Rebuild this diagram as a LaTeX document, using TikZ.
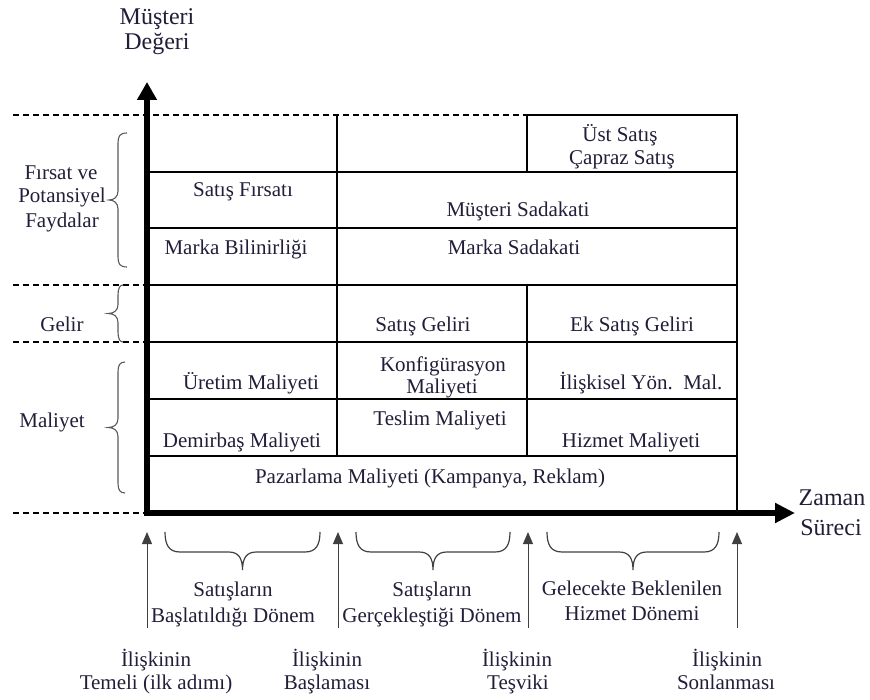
\documentclass[tikz,border=0pt]{standalone}
\usepackage{fontspec}
\setmainfont{Liberation Serif}
\usetikzlibrary{arrows.meta}
\definecolor{ink}{RGB}{32,30,56}

% left-hand curly brace: end x, stem x, tip x, top y, bottom y
\newcommand\sidecurl[5]{%
  \draw[sidebrace] (#1,#4) .. controls ({#2+2},#4) and (#2,{#4+3}) .. (#2,{#4+10})
    -- (#2,{(#4+#5)/2-9}) .. controls (#2,{(#4+#5)/2-3}) and ({#2-4},{(#4+#5)/2}) .. (#3,{(#4+#5)/2})
    .. controls ({#2-4},{(#4+#5)/2}) and (#2,{(#4+#5)/2+3}) .. (#2,{(#4+#5)/2+9})
    -- (#2,{#5-10}) .. controls (#2,{#5-3}) and ({#2+2},#5) .. (#1,#5);}

% downward curly brace under the time axis: left x, right x
\newcommand\lowcurl[2]{%
  \draw[lowbrace] (#1,532) .. controls (#1,545) and ({#1+4},552) .. ({#1+15},552)
    -- ({(#1+#2)/2-14},552) .. controls ({(#1+#2)/2-4},552) and ({(#1+#2)/2},558) .. ({(#1+#2)/2},570)
    .. controls ({(#1+#2)/2},558) and ({(#1+#2)/2+4},552) .. ({(#1+#2)/2+14},552)
    -- ({#2-15},552) .. controls ({#2-4},552) and (#2,545) .. (#2,532);}

\begin{document}
\begin{tikzpicture}[x=1pt,y=-1pt,
  lbl/.style={anchor=base, inner sep=0pt, text=ink, font=\fontsize{21}{24}\selectfont},
  biglbl/.style={lbl, font=\fontsize{24}{27}\selectfont},
  gridline/.style={line width=1.8pt, black},
  guide/.style={line width=1.4pt, dash pattern=on 6pt off 4pt, black},
  axis/.style={line width=5.5pt, line join=miter,
    {Triangle[length=18pt,width=19pt]}-{Triangle[length=20pt,width=19pt]}},
  marker/.style={line width=1pt, black!75, -{Triangle[length=12pt,width=10pt]}},
  sidebrace/.style={line width=1.1pt, black!65},
  lowbrace/.style={line width=1.2pt, black!75},
]
\useasboundingbox (0,0) rectangle (870,700);

% dashed guide lines on the left
\draw[guide] (13,115) -- (527,115);
\draw[guide] (13,285) -- (147,285);
\draw[guide] (13,342) -- (147,342);
\draw[guide] (13,513) -- (147,513);

% table grid
\foreach \y in {172,228,285,342,399,456}
  \draw[gridline] (147,\y) -- (737,\y);
\draw[gridline] (527,115) -- (737,115) -- (737,513);
\draw[gridline] (337,115) -- (337,456);
\draw[gridline] (527,115) -- (527,172);
\draw[gridline] (527,285) -- (527,456);

% axes
\coordinate (O) at (147,513);
\coordinate (ytip) at (147,82);
\coordinate (xtip) at (795,513);
\draw[axis] (ytip) -- (O) -- (xtip);

% axis labels
\node[biglbl] (musteri) at (157,25) {Müşteri};
\node[biglbl] (degeri) at (157,50) {Değeri};
\node[biglbl] (zaman) at (832,505) {Zaman};
\node[biglbl] (sureci) at (831,535) {Süreci};

% cell texts
\node[lbl] (ust1) at (620,142) {Üst Satış};
\node[lbl] (ust2) at (622,165) {Çapraz Satış};
\node[lbl] (firsat) at (243,197) {Satış Fırsatı};
\node[lbl] (msad) at (518,217) {Müşteri Sadakati};
\node[lbl] (marb) at (236,255) {Marka Bilinirliği};
\node[lbl] (marsad) at (514,255) {Marka Sadakati};
\node[lbl] (sgel) at (423,332) {Satış Geliri};
\node[lbl] (ekgel) at (632,332) {Ek Satış Geliri};
\node[lbl] (uretim) at (251,390) {Üretim Maliyeti};
\node[lbl] (konf1) at (443,372) {Konfigürasyon};
\node[lbl] (konf2) at (442,393) {Maliyeti};
\node[lbl] (iliskisel) at (641,389) {İlişkisel Yön.\enspace Mal.};
\node[lbl] (demirbas) at (242,447) {Demirbaş Maliyeti};
\node[lbl] (teslim) at (440,425) {Teslim Maliyeti};
\node[lbl] (hizmet) at (631,447) {Hizmet Maliyeti};
\node[lbl] (pazar) at (430,483) {Pazarlama Maliyeti (Kampanya, Reklam)};

% group labels with braces
\node[lbl] (fy1) at (61,180) {Fırsat ve};
\node[lbl] (fy2) at (62,203) {Potansiyel};
\node[lbl] (fy3) at (62,228) {Faydalar};
\node[lbl] (gelir) at (62,332) {Gelir};
\node[lbl] (maliyet) at (52,427) {Maliyet};
\sidecurl{127}{118}{109}{133}{267}
\sidecurl{123}{118}{108}{285}{342}
\sidecurl{125}{118}{108}{362}{493}

% periods under the time axis
\lowcurl{165}{320}
\lowcurl{356}{510}
\lowcurl{547}{719}
\node[lbl] (d1a) at (233,596) {Satışların};
\node[lbl] (d1b) at (233,622) {Başlatıldığı Dönem};
\node[lbl] (d2a) at (432,596) {Satışların};
\node[lbl] (d2b) at (432,622) {Gerçekleştiği Dönem};
\node[lbl] (d3a) at (632,595) {Gelecekte Beklenilen};
\node[lbl] (d3b) at (632,620) {Hizmet Dönemi};

% milestones
\foreach \n/\x in {1/147,2/338,3/528,4/737} {
  \coordinate (m\n) at (\x,628);
  \coordinate (m\n t) at (\x,532);
  \draw[marker] (m\n) -- (m\n t);
}
\node[lbl] (i1a) at (156,666) {İlişkinin};
\node[lbl] (i1b) at (156,689) {Temeli (ilk adımı)};
\node[lbl] (i2a) at (327,666) {İlişkinin};
\node[lbl] (i2b) at (327,689) {Başlaması};
\node[lbl] (i3a) at (517,666) {İlişkinin};
\node[lbl] (i3b) at (518,689) {Teşviki};
\node[lbl] (i4a) at (727,666) {İlişkinin};
\node[lbl] (i4b) at (726,689) {Sonlanması};
\end{tikzpicture}
\end{document}
